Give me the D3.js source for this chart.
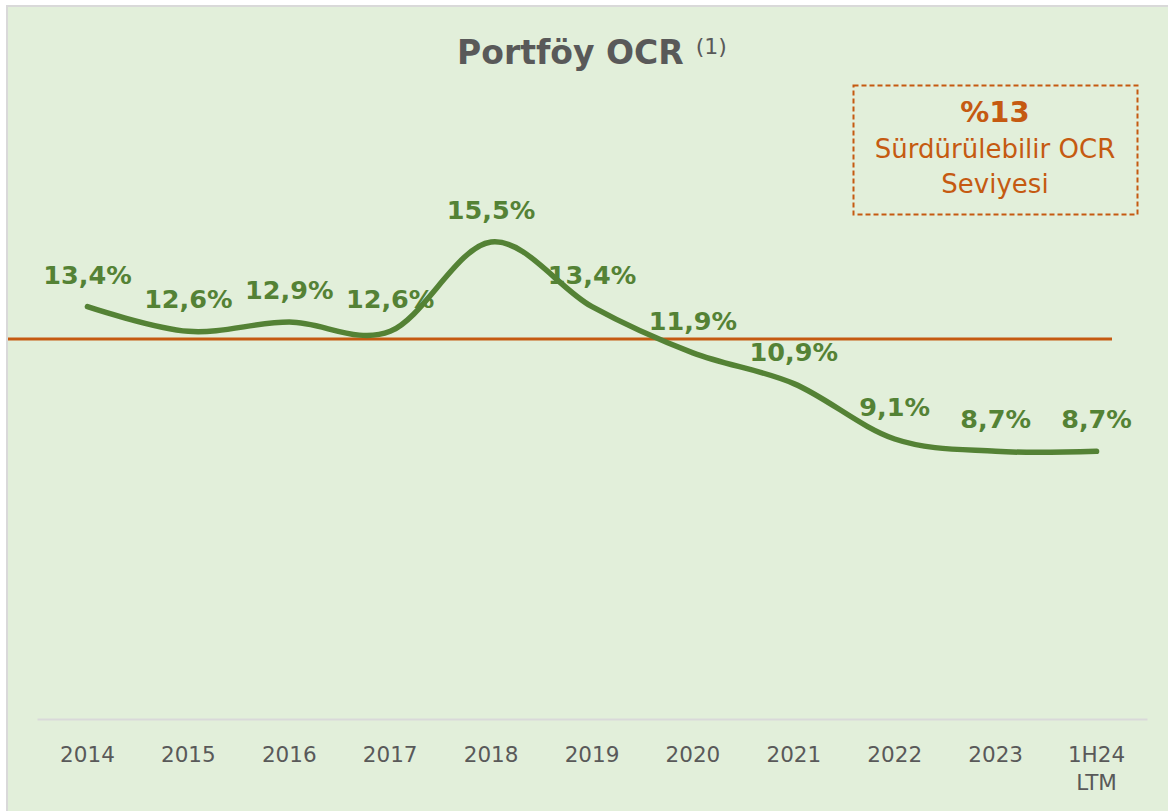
<!DOCTYPE html>
<html>
<head>
<meta charset="utf-8">
<script src="https://cdn.jsdelivr.net/npm/d3@7"></script>
<style>
  body { margin: 0; background: #fff; }
  svg { display: block; font-family: "DejaVu Sans", Verdana, sans-serif; }
</style>
</head>
<body>
<div id="chart"></div>
<script>
// data
var years = ['2014', '2015', '2016', '2017', '2018', '2019', '2020', '2021', '2022', '2023', '1H24|LTM']
var ocr = [13.4, 12.6, 12.9, 12.6, 15.5, 13.4, 11.9, 10.9, 9.1, 8.7, 8.7]
var refLine = 12.35   // orange line sits a bit under 13 in the picture
var refText = ['%13', 'Sürdürülebilir OCR', 'Seviyesi']

var W = 1168, H = 811
var green = '#548235', orange = '#c55a11', grey = '#595959'

var svg = d3.select('#chart').append('svg').attr('width', W).attr('height', H)

// chart area
svg.append('rect')
  .attr('x', 7).attr('y', 6).attr('width', W + 10).attr('height', H + 10)
  .attr('fill', '#e2efda').attr('stroke', '#d9d9d9').attr('stroke-width', 2)

var x = d3.scaleBand().domain(years).range([37, 1147])
var y = d3.scaleLinear().domain([0, 20]).range([719, 719 - 20 * 30.77])
var cx = function(d, i) { return x(years[i]) + x.bandwidth() / 2 }

// title
var title = svg.append('text')
  .attr('x', 592).attr('y', 64).attr('text-anchor', 'middle')
  .attr('fill', grey)
title.append('tspan').attr('font-size', 33).attr('font-weight', 'bold').text('Portföy OCR')
title.append('tspan').attr('font-size', 22).attr('dx', 12).attr('dy', -10).text('(1)')

// x axis
var xAxis = d3.axisBottom(x).tickSize(0).tickPadding(0)
var gx = svg.append('g').attr('transform', 'translate(0,' + y(0) + ')').call(xAxis)
gx.select('.domain').attr('stroke', '#d9d9d9').attr('stroke-width', 2)
gx.selectAll('.tick text').remove()
gx.selectAll('.tick').each(function(d) {
  var t = d3.select(this).append('text')
    .attr('fill', grey).attr('font-size', 21.5).attr('text-anchor', 'middle')
    .attr('font-family', '"DejaVu Sans", Verdana, sans-serif')
  d.split('|').forEach(function(s, k) {
    t.append('tspan').attr('x', 0).attr('y', 43 + k * 28).text(s)
  })
})

// reference line
svg.append('line')
  .attr('x1', 8).attr('x2', 1112)
  .attr('y1', y(refLine)).attr('y2', y(refLine))
  .attr('stroke', orange).attr('stroke-width', 3)

// smoothed line
var line = d3.line()
  .x(cx)
  .y(function(d) { return y(d) })
  .curve(d3.curveCatmullRom.alpha(0))

svg.append('path')
  .attr('d', line(ocr))
  .attr('fill', 'none').attr('stroke', green)
  .attr('stroke-width', 5.5).attr('stroke-linecap', 'round')

// value labels
svg.selectAll('text.lbl').data(ocr).enter().append('text')
  .attr('class', 'lbl')
  .attr('x', cx)
  .attr('y', function(d) { return y(d) - 23 })
  .attr('text-anchor', 'middle')
  .attr('fill', green).attr('font-size', 25.5).attr('font-weight', 'bold')
  .text(function(d) { return d3.format('.1f')(d).replace('.', ',') + '%' })

// sustainable level box
svg.append('rect')
  .attr('x', 853.5).attr('y', 85.5).attr('width', 284).attr('height', 129)
  .attr('fill', 'none').attr('stroke', orange).attr('stroke-width', 2)
  .attr('stroke-dasharray', '5,3')

svg.selectAll('text.box').data(refText).enter().append('text')
  .attr('class', 'box')
  .attr('x', 995)
  .attr('y', function(d, i) { return [122, 158, 193][i] })
  .attr('text-anchor', 'middle').attr('fill', orange)
  .attr('font-size', function(d, i) { return i == 0 ? 29 : 26 })
  .attr('font-weight', function(d, i) { return i == 0 ? 'bold' : 'normal' })
  .text(function(d) { return d })
</script>
</body>
</html>
